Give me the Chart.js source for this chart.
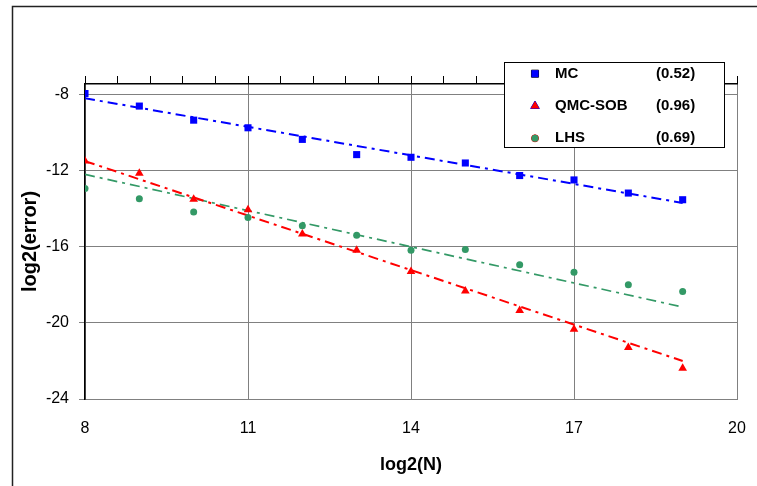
<!DOCTYPE html>
<html>
<head>
<meta charset="utf-8">
<title>log2(error) vs log2(N)</title>
<script src="https://cdn.jsdelivr.net/npm/chart.js@4/dist/chart.umd.min.js"></script>
<style>
	html, body { margin: 0; padding: 0; background: #fff; }
	#error-chart { display: block; }
</style>
</head>
<body>
<canvas id="error-chart" width="757" height="486"></canvas>
<script>
// sample sizes (log2 N) and measured errors (log2) for each sampling method
var log2N = [8, 9, 10, 11, 12, 13, 14, 15, 16, 17, 18, 19];
var mcErr = [-7.95, -8.61, -9.35, -9.75, -10.36, -11.16, -11.30, -11.60, -12.26, -12.49, -13.18, -13.53];
var qmcErr = [-11.5, -12.14, -13.5, -14.06, -15.33, -16.19, -17.30, -18.33, -19.35, -20.34, -21.3, -22.38];
var lhsErr = [-12.94, -13.48, -14.18, -14.46, -14.9, -15.4, -16.19, -16.15, -16.95, -17.34, -18.0, -18.35];

// trend line end points
var trendX = [8, 19];
var mcTrend = [-8.2, -13.7];
var qmcTrend = [-11.5, -22.0];
var lhsTrend = [-12.2, -19.17];

var seriesNames = ['MC', 'QMC-SOB', 'LHS'];
var slopeLabels = ['(0.52)', '(0.96)', '(0.69)'];
var xTicks = [8, 11, 14, 17, 20];
var yTicks = [-24, -20, -16, -12, -8];

var FONT = '"Liberation Sans", Arial, sans-serif';

function toPoints(xs, ys) {
	var pts = [];
	for (var i = 0; i < xs.length; i++) {
		pts.push({x: xs[i], y: ys[i]});
	}
	return pts;
}

var chart_page = {
	initialize: function() {
		this.init_chart('error-chart');
	},

	// white page with the thin frame round the whole figure
	frame_plugin: {
		id: 'frame',
		beforeDraw: function(chart) {
			var ctx = chart.ctx;
			ctx.save();
			ctx.fillStyle = '#fff';
			ctx.fillRect(0, 0, chart.width, chart.height);
			ctx.strokeStyle = '#222';
			ctx.lineWidth = 1.5;
			ctx.strokeRect(12.5, 6.5, chart.width + 20, chart.height + 20);
			ctx.restore();
		}
	},

	// boxed legend with the fitted slope next to every method
	legend_plugin: {
		id: 'slopeLegend',
		afterDraw: function(chart) {
			var ctx = chart.ctx;
			var box = {x: 504.5, y: 62.5, w: 220, h: 85};
			var rows = [73.7, 106, 138.3];
			ctx.save();
			ctx.fillStyle = '#fff';
			ctx.fillRect(box.x, box.y, box.w, box.h);
			ctx.strokeStyle = '#000';
			ctx.lineWidth = 1;
			ctx.strokeRect(box.x, box.y, box.w, box.h);
			ctx.font = 'bold 15px ' + FONT;
			ctx.textBaseline = 'middle';
			ctx.textAlign = 'left';
			for (var i = 0; i < seriesNames.length; i++) {
				var ds = chart.data.datasets[i];
				Chart.helpers.drawPoint(ctx, {
					pointStyle: ds.pointStyle,
					radius: ds.pointRadius,
					rotation: 0,
					borderWidth: 1
				}, 535, rows[i]);
				ctx.fillStyle = ds.backgroundColor;
				ctx.strokeStyle = ds.borderColor;
				ctx.fill();
				ctx.fillStyle = '#000';
				ctx.fillText(seriesNames[i], 555, rows[i]);
				ctx.fillText(slopeLabels[i], 656, rows[i]);
			}
			ctx.restore();
		}
	},

	init_chart: function(canvasId) {
		var colors = ['#0000ff', '#ff0000', '#339966'];
		var styles = ['rect', 'triangle', 'circle'];
		var radii = [5, 5, 3.5];
		var values = [mcErr, qmcErr, lhsErr];
		var trends = [mcTrend, qmcTrend, lhsTrend];
		var datasets = [];

		for (var i = 0; i < values.length; i++) {
			datasets.push({
				label: seriesNames[i],
				data: toPoints(log2N, values[i]),
				showLine: false,
				pointStyle: styles[i],
				pointRadius: radii[i],
				pointBorderWidth: 0,
				backgroundColor: colors[i],
				borderColor: colors[i],
				order: 1
			});
		}
		for (var j = 0; j < trends.length; j++) {
			datasets.push({
				label: seriesNames[j] + ' trend',
				data: toPoints(trendX, trends[j]),
				showLine: true,
				pointRadius: 0,
				borderColor: colors[j],
				borderWidth: j == 2 ? 1.7 : 2,
				borderDash: [10, 5, 3, 5],
				fill: false,
				order: 2
			});
		}

		var tickFont = {family: FONT, size: 16};

		// keep the horizontal scales from reserving room for the "20" label
		var noSidePadding = function(scale) {
			scale.paddingLeft = 0;
			scale.paddingRight = 0;
		};

		var config = {
			type: 'scatter',
			data: {datasets: datasets},
			plugins: [this.frame_plugin, this.legend_plugin],
			options: {
				responsive: false,
				animation: false,
				events: [],
				layout: {padding: {left: 0, right: 20, top: 0, bottom: 0}},
				plugins: {
					legend: {display: false},
					tooltip: {enabled: false}
				},
				scales: {
					x: {
						type: 'linear',
						position: 'bottom',
						min: 8,
						max: 20,
						afterBuildTicks: function(scale) {
							scale.ticks = xTicks.map(function(v) { return {value: v}; });
						},
						afterFit: function(scale) {
							scale.height = 87;
							noSidePadding(scale);
						},
						ticks: {color: '#000', font: tickFont, padding: 20},
						grid: {color: '#808080', lineWidth: 1, drawTicks: false},
						border: {color: '#808080', width: 1},
						title: {display: true, text: 'log2(N)', color: '#000', font: {family: FONT, size: 18, weight: 'bold'}, padding: {top: 0, bottom: 10}}
					},
					x2: {
						type: 'linear',
						position: 'top',
						min: 8,
						max: 20,
						afterFit: function(scale) {
							scale.height = 84;
							noSidePadding(scale);
						},
						ticks: {display: false, stepSize: 0.6},
						grid: {drawOnChartArea: false, drawTicks: true, tickLength: 8, color: '#000'},
						border: {color: '#000', width: 1.5}
					},
					y: {
						type: 'linear',
						position: 'left',
						min: -24,
						max: -7.45,
						afterBuildTicks: function(scale) {
							scale.ticks = yTicks.map(function(v) { return {value: v}; });
						},
						afterFit: function(scale) { scale.width = 85; },
						ticks: {color: '#000', font: tickFont, padding: 10},
						grid: {color: '#808080', lineWidth: 1, tickLength: 6},
						border: {color: '#000', width: 1.5},
						title: {display: true, text: 'log2(error)', color: '#000', font: {family: FONT, size: 20, weight: 'bold'}, padding: {top: 18, bottom: 0}}
					}
				}
			}
		};

		var ctx = document.getElementById(canvasId).getContext('2d');
		var errorChart = new Chart(ctx, config);
	}
};

window.addEventListener('load', function() {
	chart_page.initialize();
});
</script>
</body>
</html>
